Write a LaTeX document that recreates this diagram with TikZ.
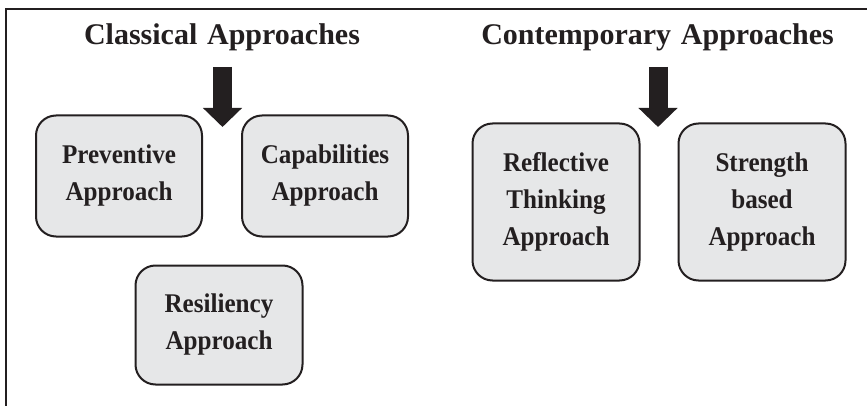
\documentclass[tikz,border=0pt]{standalone}
\usepackage{fontspec}
\setmainfont{Liberation Serif}
\newfontfamily\headfont{Liberation Serif}[WordSpace=1.3]
\newfontfamily\boxfont{Liberation Serif}[FakeStretch=0.93]
\usetikzlibrary{arrows.meta}
\definecolor{ink}{HTML}{231F20}
\definecolor{boxgray}{HTML}{E6E7E8}
\tikzset{
    heading/.style={font=\headfont\fontsize{30}{34}\selectfont\bfseries, text=ink, inner sep=0pt},
    approach/.style={draw=ink, fill=boxgray, line width=2pt, rounded corners=20pt,
        text=ink, align=center, inner sep=0pt,
        font=\boxfont\fontsize{27}{37}\selectfont\bfseries},
    bigarrow/.style={draw=ink, line width=19pt, -{Triangle[length=19pt 0 0, width=38pt 0 0]}}
}

\begin{document}
\begin{tikzpicture}[x=1pt, y=-1pt]
    \useasboundingbox (0,0) rectangle (867,406);
    % The frame, only its top and left sides show.
        \draw[ink, line width=2pt] (6,406) |- (867,9);
    % Below nodes are the headings.
        \node[heading, anchor=base] (classical) at (222,45) {Classical Approaches};
        \node[heading, anchor=base] (contemporary) at (657.5,45) {Contemporary Approaches};
    % The boxes.
        \node[approach, minimum width=166pt, minimum height=121pt] (preventive) at (119,176) {Preventive\\Approach};
        \node[approach, minimum width=166pt, minimum height=121pt] (capabilities) at (325,176) {Capabilities\\Approach};
        \node[approach, minimum width=167pt, minimum height=119pt] (resiliency) at (219,325) {Resiliency\\Approach};
        \node[approach, minimum width=167pt, minimum height=157pt] (reflective) at (556,202) {Reflective\\Thinking\\Approach};
        \node[approach, minimum width=167pt, minimum height=157pt] (strength) at (762,202) {Strength\\based\\Approach};
    % This draws the two arrows.
        \coordinate (classical top) at (222.5,67);
        \coordinate (classical tip) at (222.5,127);
        \coordinate (contemporary top) at (658,67);
        \coordinate (contemporary tip) at (658,127);
        \draw[bigarrow] (classical top) -- (classical tip);
        \draw[bigarrow] (contemporary top) -- (contemporary tip);
\end{tikzpicture}
\end{document}
